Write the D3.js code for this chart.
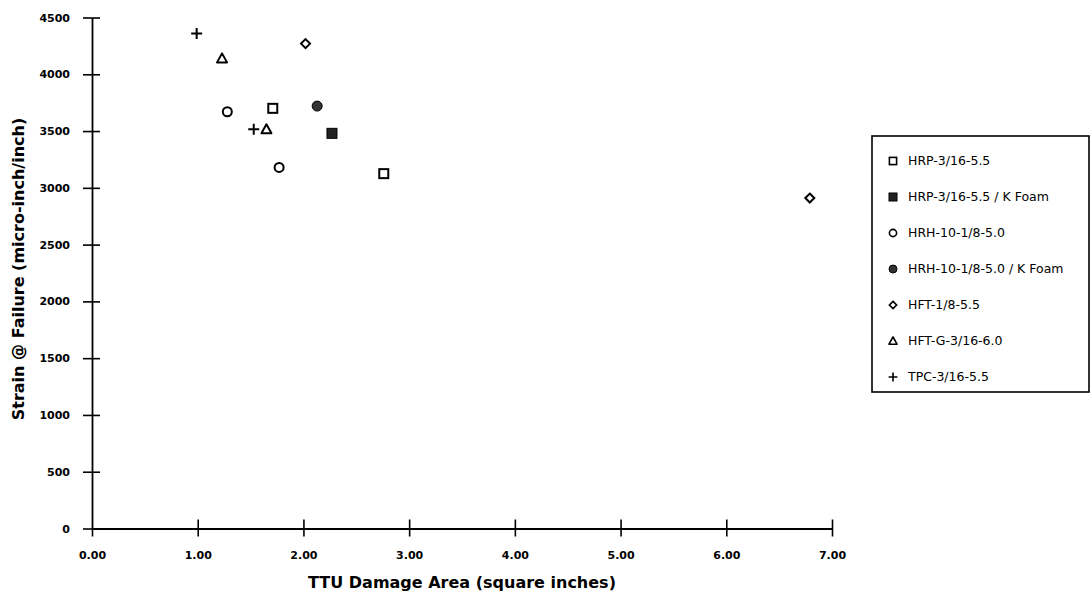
<!DOCTYPE html>
<html><head><meta charset="utf-8">
<script src="https://cdn.jsdelivr.net/npm/d3@7"></script>
<style>
body{margin:0;background:#fff;}
svg{display:block;}
text{fill:#000;}
</style></head>
<body>
<div id="chart"></div>
<script>
// ---- data ----
const seriesNames = ["HRP-3/16-5.5","HRP-3/16-5.5 / K Foam","HRH-10-1/8-5.0","HRH-10-1/8-5.0 / K Foam","HFT-1/8-5.5","HFT-G-3/16-6.0","TPC-3/16-5.5"];
const seriesSymbols = ["squareOpen","squareFilled","circleOpen","circleFilled","diamondOpen","triangleOpen","plus"];
const hrpX = [1.71, 2.76];        const hrpY = [3700, 3125];
const hrpKX = [2.27];             const hrpKY = [3480];
const hrhX = [1.28, 1.77];        const hrhY = [3670, 3180];
const hrhKX = [2.13];             const hrhKY = [3720];
const hftX = [2.02, 6.79];        const hftY = [4270, 2910];
const hftgX = [1.23, 1.65];       const hftgY = [4140, 3515];
const tpcX = [0.99, 1.53];        const tpcY = [4360, 3515];
const xTicks = [0,1,2,3,4,5,6,7];
const yTicks = [0,500,1000,1500,2000,2500,3000,3500,4000,4500];
const xTitle = "TTU Damage Area (square inches)";
const yTitle = "Strain @ Failure (micro-inch/inch)";

const seriesX = [hrpX,hrpKX,hrhX,hrhKX,hftX,hftgX,tpcX];
const seriesY = [hrpY,hrpKY,hrhY,hrhKY,hftY,hftgY,tpcY];

// ---- layout ----
const W = 1092, H = 598;
const svg = d3.select("#chart").append("svg").attr("width",W).attr("height",H);
const x = d3.scaleLinear().domain([0,7]).range([92,832]);
const y = d3.scaleLinear().domain([0,4500]).range([528.5,17.5]);
const FONT = "'DejaVu Sans', Arial, sans-serif";

// y axis
const gy = svg.append("g").attr("transform","translate(92,0)")
  .call(d3.axisLeft(y).tickValues(yTicks).tickFormat(d3.format("d")).tickSizeOuter(0).tickSizeInner(9).tickPadding(14));
gy.select(".domain").attr("stroke","#000").attr("stroke-width",1.8);
gy.selectAll(".tick line").attr("x1",-9).attr("x2",8).attr("stroke","#000").attr("stroke-width",1.6);
gy.selectAll(".tick text").attr("font-family",FONT).attr("font-size",11).attr("font-weight","bold").attr("x",-22);

// x axis
const gx = svg.append("g").attr("transform","translate(0,528.5)")
  .call(d3.axisBottom(x).tickValues(xTicks).tickFormat(d3.format(".2f")).tickSizeOuter(0).tickSizeInner(8).tickPadding(18));
gx.select(".domain").attr("stroke","#000").attr("stroke-width",1.8);
gx.selectAll(".tick line").attr("y1",-9).attr("y2",8).attr("stroke","#000").attr("stroke-width",1.6);
gx.selectAll(".tick text").attr("font-family",FONT).attr("font-size",11).attr("font-weight","bold").attr("y",23);
gx.selectAll(".tick").filter(d=>d===0).select("line").attr("y1",0);

// titles
svg.append("text").attr("x",462).attr("y",588).attr("text-anchor","middle")
  .attr("font-family",FONT).attr("font-size",16).attr("font-weight","bold").text(xTitle);
svg.append("text").attr("transform","translate(24,269) rotate(-90)").attr("text-anchor","middle")
  .attr("font-family",FONT).attr("font-size",16).attr("font-weight","bold").text(yTitle);

// symbol drawing
function drawSymbol(g, type, cx, cy, s){
  s = s || 1;
  const sw = 2*s;
  if(type==="squareOpen"){
    g.append("rect").attr("x",cx-4.5*s).attr("y",cy-4.5*s).attr("width",9*s).attr("height",9*s)
      .attr("fill","#fff").attr("stroke","#000").attr("stroke-width",sw);
  } else if(type==="squareFilled"){
    g.append("rect").attr("x",cx-5*s).attr("y",cy-5*s).attr("width",10*s).attr("height",10*s)
      .attr("fill","#222").attr("stroke","#000").attr("stroke-width",1);
  } else if(type==="circleOpen"){
    g.append("circle").attr("cx",cx).attr("cy",cy).attr("r",4.5*s)
      .attr("fill","#fff").attr("stroke","#000").attr("stroke-width",sw);
  } else if(type==="circleFilled"){
    g.append("circle").attr("cx",cx).attr("cy",cy).attr("r",5*s)
      .attr("fill","#333").attr("stroke","#000").attr("stroke-width",1);
  } else if(type==="diamondOpen"){
    const r=4.5*s;
    g.append("path").attr("d",`M${cx},${cy-r}L${cx+r},${cy}L${cx},${cy+r}L${cx-r},${cy}Z`)
      .attr("fill","#fff").attr("stroke","#000").attr("stroke-width",sw);
  } else if(type==="triangleOpen"){
    const r=5*s;
    g.append("path").attr("d",`M${cx},${cy-r}L${cx+r},${cy+r*0.8}L${cx-r},${cy+r*0.8}Z`)
      .attr("fill","#fff").attr("stroke","#000").attr("stroke-width",sw).attr("stroke-linejoin","round");
  } else if(type==="plus"){
    const r=5.5*s;
    g.append("path").attr("d",`M${cx-r},${cy}H${cx+r}M${cx},${cy-r}V${cy+r}`)
      .attr("fill","none").attr("stroke","#000").attr("stroke-width",sw);
  }
}

// points
const gp = svg.append("g");
seriesNames.forEach((name,i)=>{
  seriesX[i].forEach((xv,j)=>{
    drawSymbol(gp, seriesSymbols[i], x(xv), y(seriesY[i][j]), 1);
  });
});

// legend
const lg = svg.append("g");
const lx = 872, ly = 136, lw = 217, lh = 256;
lg.append("rect").attr("x",lx).attr("y",ly).attr("width",lw).attr("height",lh)
  .attr("fill","#fff").attr("stroke","#000").attr("stroke-width",1.6);
seriesNames.forEach((name,i)=>{
  const cy = 161 + i*36;
  drawSymbol(lg, seriesSymbols[i], 893, cy, 0.8);
  lg.append("text").attr("x",908).attr("y",cy).attr("dy","0.35em")
    .attr("font-family",FONT).attr("font-size",12.5).text(name);
});
</script>
</body></html>
